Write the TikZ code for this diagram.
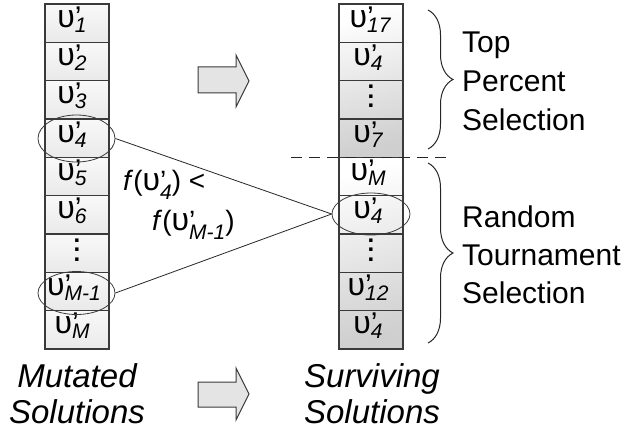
\documentclass[tikz,border=0pt]{standalone}
\usepackage{fontspec}
\setmainfont{Liberation Sans}
\usetikzlibrary{shapes.geometric,decorations.pathreplacing}

\definecolor{edge}{HTML}{3A3A3A}
\definecolor{arrowfill}{HTML}{E4E4E4}

% solution symbol: upsilon with a prime stacked over an italic index
\newcommand\usol[2][5pt]{{\fontsize{32}{32}\selectfont υ}\rlap{’}\raisebox{-#1}{\fontsize{21}{21}\selectfont\itshape #2}}

\tikzset{
  cell/.style={draw=edge, line width=1.1pt, minimum width=64pt, minimum height=38.33pt,
    inner sep=0pt, text height=23pt, text depth=15.33pt, font=\fontsize{30}{30}\selectfont},
  lcell/.style={cell, top color=gray!5, bottom color=gray!17},
  rcell/.style={cell},
  vdotsn/.style={inner sep=0pt, align=center, font=\fontsize{24}{9.5}\selectfont\bfseries},
  ring/.style={ellipse, draw=edge, line width=0.8pt, inner sep=0pt},
  link/.style={draw=black!85, line width=0.8pt},
  blockarrow/.style={draw=edge, line width=1pt, fill=arrowfill},
  lbl/.style={inner sep=0pt, anchor=base west, font=\fontsize{30}{30}\selectfont},
  caption/.style={inner sep=0pt, anchor=base, font=\fontsize{33}{33}\selectfont\itshape},
  cond/.style={inner sep=0pt, anchor=base west, font=\fontsize{28}{28}\selectfont},
  bracedec/.style={draw=black!85, line width=1pt, decorate, decoration={brace, amplitude=25pt}},
}

\begin{document}
\begin{tikzpicture}[x=1pt,y=-1pt]
\useasboundingbox (0,0) rectangle (636,433);

% mutated solutions column
\node[lcell] (L1) at (77,23.17)  {\usol{1}\kern10pt};
\node[lcell] (L2) at (77,61.5)   {\usol{2}\kern10pt};
\node[lcell] (L3) at (77,99.83)  {\usol{3}\kern10pt};
\node[lcell] (L4) at (77,138.17) {\usol{4}\kern10pt};
\node[lcell] (L5) at (77,176.5)  {\usol{5}\kern10pt};
\node[lcell] (L6) at (77,214.83) {\usol{6}\kern10pt};
\node[lcell] (L7) at (77,253.17) {};
\node[lcell] (L8) at (77,291.5)  {\usol{M-1}\kern6pt};
\node[lcell] (L9) at (77,329.83) {\usol{M}\kern10pt};
\node[vdotsn] (L7d) at (77,250) {.\\.\\.};

% surviving solutions column: two shaded groups
\shade[top color=white, bottom color=gray!38, shading angle=15] (339,4) rectangle (403,157.33);
\shade[top color=white, bottom color=gray!38, shading angle=15] (339,157.33) rectangle (403,349);
\node[rcell] (R1) at (371,23.17)  {\usol{17}\kern2pt};
\node[rcell] (R2) at (371,61.5)   {\usol{4}\kern6pt};
\node[rcell] (R3) at (371,99.83)  {};
\node[rcell] (R4) at (371,138.17) {\usol{7}\kern6pt};
\node[rcell] (R5) at (371,176.5)  {\usol{M}\kern6pt};
\node[rcell] (R6) at (371,214.83) {\usol{4}\kern6pt};
\node[rcell] (R7) at (371,253.17) {};
\node[rcell] (R8) at (371,291.5)  {\usol{12}\kern6pt};
\node[rcell] (R9) at (371,329.83) {\usol{4}\kern6pt};
\node[vdotsn] (R3d) at (371,96.7) {.\\.\\.};
\node[vdotsn] (R7d) at (371,250) {.\\.\\.};

% split between the two selection groups
\coordinate (cutA) at (291,157.33);
\coordinate (cutB) at (447,157.33);
\draw[black!85, line width=1pt, dash pattern=on 11pt off 7pt] (cutA) -- (cutB);

% tournament comparison
\node[ring, minimum width=77pt, minimum height=47pt] (e1) at (76.5,138.5) {};
\node[ring, minimum width=77pt, minimum height=43pt] (e2) at (76.5,293) {};
\node[ring, minimum width=78pt, minimum height=42pt] (e3) at (371,214) {};
\draw[link] (e1.east) -- (e3.west);
\draw[link] (e2.east) -- (e3.west);
\node[cond] (c1) at (123,190) {\textit{f}(\usol[9pt]{4}) <};
\node[cond] (c2) at (152,230) {\textit{f}(\usol[9pt]{M-1})};

% block arrows
\draw[blockarrow] (198,67) -- (236,67) -- (236,55) -- (249,81) -- (236,107) -- (236,93) -- (198,93) -- cycle;
\draw[blockarrow] (198,382) -- (236,382) -- (236,368) -- (249,394) -- (236,420) -- (236,407) -- (198,407) -- cycle;

% braces and group labels
\coordinate (b1t) at (428,10);
\coordinate (b1b) at (428,149);
\coordinate (b2t) at (428,163);
\coordinate (b2b) at (428,343);
\draw[bracedec] (b1t) -- (b1b);
\draw[bracedec] (b2t) -- (b2b);
\node[lbl] (t1) at (462,53)  {Top};
\node[lbl] (t2) at (462,92)  {Percent};
\node[lbl] (t3) at (462,130) {Selection};
\node[lbl] (t4) at (462,227) {Random};
\node[lbl] (t5) at (462,265) {Tournament};
\node[lbl] (t6) at (462,303) {Selection};

% column captions
\node[caption] (m1) at (77,387)  {Mutated};
\node[caption] (m2) at (77,423)  {Solutions};
\node[caption] (s1) at (372,387) {Surviving};
\node[caption] (s2) at (372,423) {Solutions};
\end{tikzpicture}
\end{document}
